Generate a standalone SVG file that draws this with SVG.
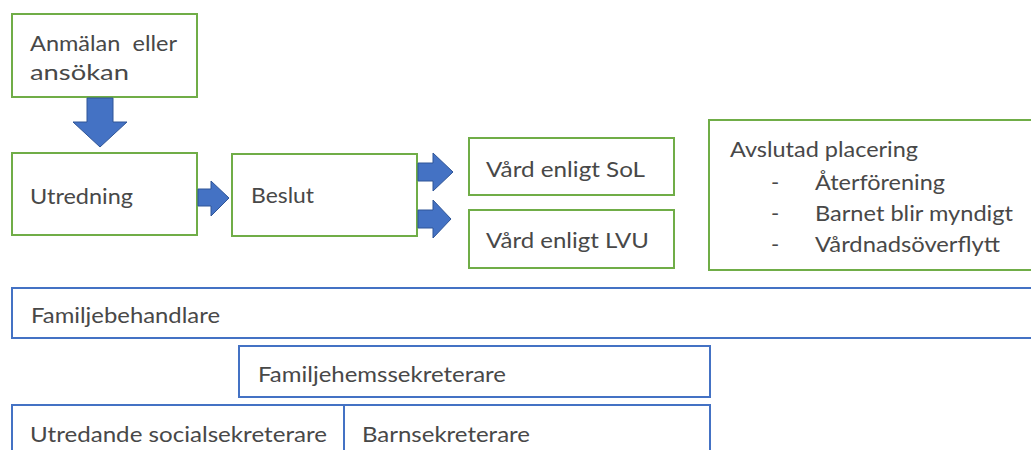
<svg xmlns="http://www.w3.org/2000/svg" width="1031" height="450" viewBox="0 0 1031 450">
<style>
.g{fill:#fff;stroke:#70ad47;stroke-width:2}
.b{fill:#fff;stroke:#4472c4;stroke-width:2}
.a{fill:#4472c4;stroke:#2f5597;stroke-width:1}
text{font-family:Lato,"Open Sans","Liberation Sans",sans-serif;font-size:22px;fill:#484848;white-space:pre}
</style>
<rect width="1031" height="450" fill="#fff"/>
<g id="n-anmalan"><rect class="g" x="12" y="14" width="185" height="83"/>
<text x="30" y="51" textLength="147" lengthAdjust="spacingAndGlyphs">Anmälan  eller</text>
<text x="30" y="80" textLength="99" lengthAdjust="spacingAndGlyphs">ansökan</text></g>
<g id="n-utredning"><rect class="g" x="12" y="153" width="185" height="82"/>
<text x="30" y="204" textLength="103" lengthAdjust="spacingAndGlyphs">Utredning</text></g>
<g id="n-beslut"><rect class="g" x="232" y="154" width="185" height="82"/>
<text x="251" y="203" textLength="63" lengthAdjust="spacingAndGlyphs">Beslut</text></g>
<g id="n-sol"><rect class="g" x="469" y="138" width="205" height="57"/>
<text x="486" y="177" textLength="159" lengthAdjust="spacingAndGlyphs">Vård enligt SoL</text></g>
<g id="n-lvu"><rect class="g" x="469" y="210" width="205" height="58"/>
<text x="486" y="248" textLength="163" lengthAdjust="spacingAndGlyphs">Vård enligt LVU</text></g>
<g id="n-avslutad"><rect class="g" x="709" y="120" width="340" height="150"/>
<text x="730" y="157" textLength="188" lengthAdjust="spacingAndGlyphs">Avslutad placering</text>
<text x="771" y="190">-</text><text x="815" y="190" textLength="130" lengthAdjust="spacingAndGlyphs">Återförening</text>
<text x="771" y="221">-</text><text x="815" y="221" textLength="198" lengthAdjust="spacingAndGlyphs">Barnet blir myndigt</text>
<text x="771" y="252">-</text><text x="815" y="252" textLength="185" lengthAdjust="spacingAndGlyphs">Vårdnadsöverflytt</text></g>
<g id="n-familjebehandlare"><rect class="b" x="12" y="288" width="1040" height="50"/>
<text x="31" y="323" textLength="189" lengthAdjust="spacingAndGlyphs">Familjebehandlare</text></g>
<g id="n-familjehem"><rect class="b" x="239" y="346" width="471" height="51"/>
<text x="258" y="382" textLength="248" lengthAdjust="spacingAndGlyphs">Familjehemssekreterare</text></g>
<g id="n-utredande"><rect class="b" x="12" y="405" width="332" height="60"/>
<text x="30" y="442" textLength="297" lengthAdjust="spacingAndGlyphs">Utredande socialsekreterare</text></g>
<g id="n-barnsekreterare"><rect class="b" x="344" y="405" width="366" height="60"/>
<text x="362" y="442" textLength="168" lengthAdjust="spacingAndGlyphs">Barnsekreterare</text></g>
<g id="connectors">
<polygon class="a" points="87,98 113,98 113,122 127,122 100,147 73,122 87,122"/>
<polygon class="a" points="198,189 211,189 211,181 229,198 211,216 211,206 198,206"/>
<polygon class="a" points="418,163 433,163 433,153 453,172 433,191 433,181 418,181"/>
<polygon class="a" points="418,210 433,210 433,200 451,219 433,238 433,228 418,228"/>
</g>
</svg>
